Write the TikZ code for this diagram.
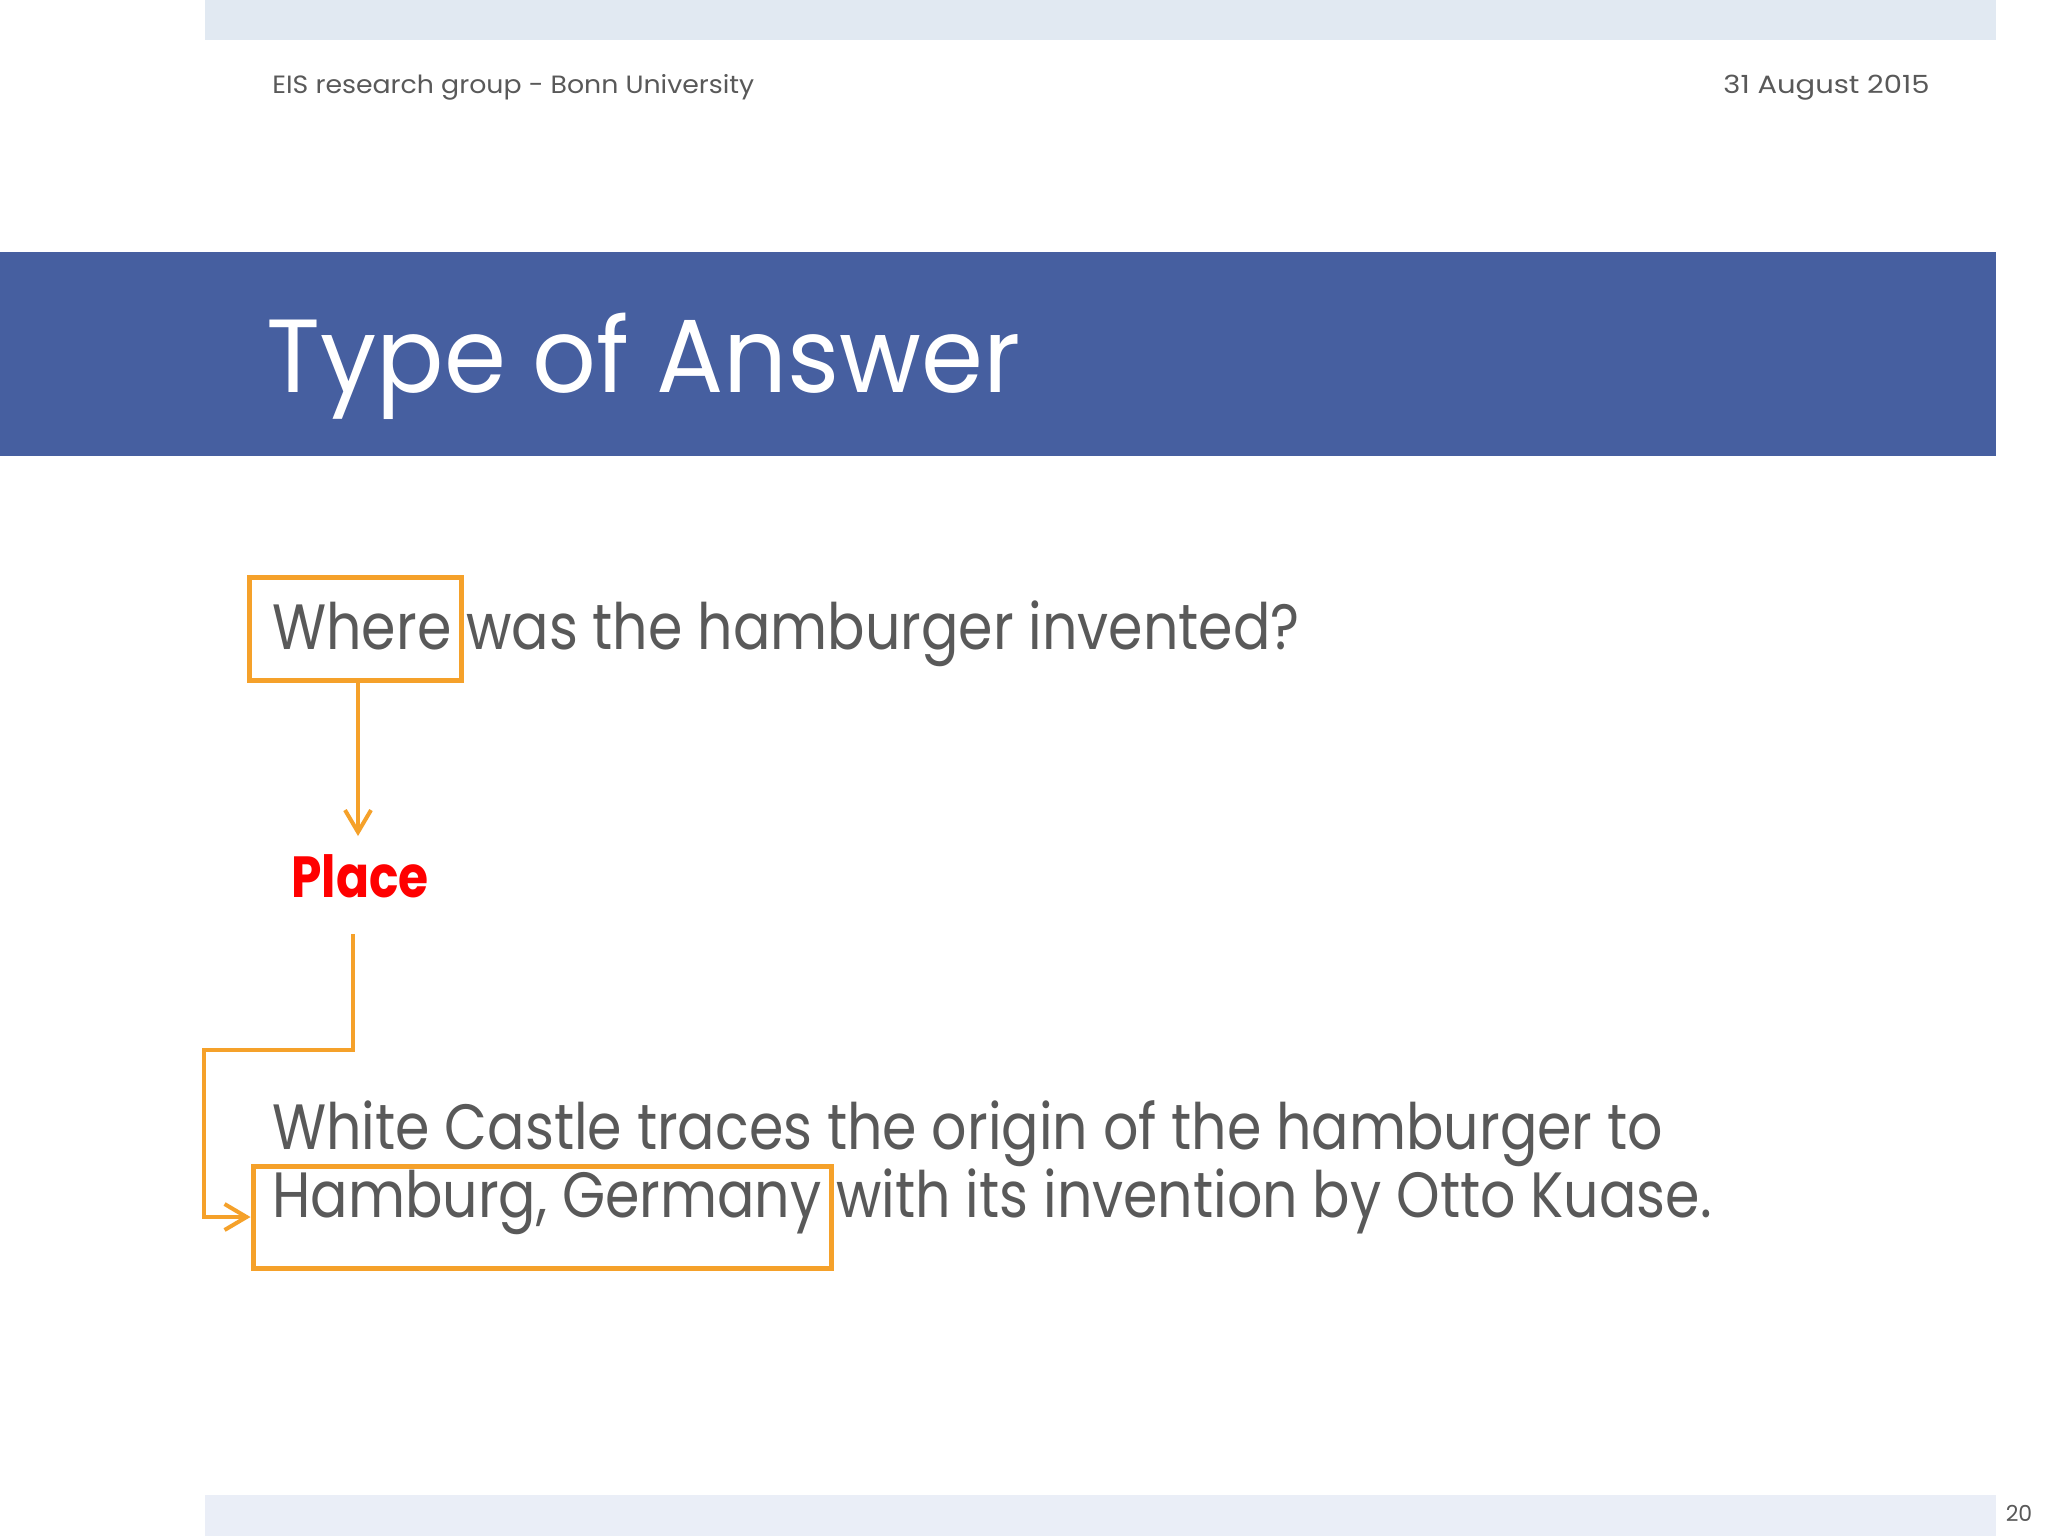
\documentclass[tikz,border=0pt]{standalone}
\usepackage{fontspec}
\setmainfont{Poppins}
\usetikzlibrary{arrows.meta}
\definecolor{txtgray}{HTML}{595959}
\definecolor{bandblue}{HTML}{465FA0}
\definecolor{topband}{HTML}{E1E9F2}
\definecolor{botband}{HTML}{EAEEF7}
\definecolor{hlorange}{HTML}{F5A12A}
\definecolor{placered}{HTML}{FF0000}
\newcommand{\hsq}[2]{\scalebox{#1}[1]{#2}}
\tikzset{
  hlbox/.style={draw=hlorange, line width=2.5pt, inner sep=0pt},
  link/.style={draw=hlorange, line width=2pt},
  tip/.style={-{Straight Barb[length=11pt,width=13pt,line width=2pt]}},
  body/.style={text=txtgray, inner sep=0pt, font=\fontsize{32}{38}\selectfont},
  small/.style={text=txtgray, inner sep=0pt, font=\fontsize{12.5}{15}\selectfont},
}
\begin{document}
\begin{tikzpicture}[x=0.5pt,y=-0.5pt]
\useasboundingbox (0,0) rectangle (2048,1536);
\fill[white] (0,0) rectangle (2048,1536);
% bands
\fill[topband] (205,0) rectangle (1996,40);
\fill[bandblue] (0,252) rectangle (1996,456);
\fill[botband] (205,1495) rectangle (1996,1536);
% header
\node[small, anchor=base west] (hdrl) at (272,94) {\hsq{1.07}{EIS research group - Bonn University}};
\node[small, anchor=base east] (hdrr) at (1930,94) {\hsq{1.16}{31 August 2015}};
% title
\node[anchor=base west, inner sep=0pt, text=white, font=\fontsize{52}{60}\selectfont] (title) at (266,392) {\hsq{0.96}{Type of Answer}};
% question
\node[body, anchor=base west] (q) at (272,649) {\hsq{0.866}{Where was the hamburger invented?}};
\node[hlbox, minimum width=106pt, minimum height=51.5pt] (wbox) at (355,628.5) {};
% Place
\node[anchor=base, inner sep=0pt, text=placered, font=\bfseries\fontsize{29}{34}\selectfont] (place) at (360,897) {\hsq{0.84}{Place}};
\coordinate (p1end) at (358,836);
\coordinate (p2start) at (353,934);
\coordinate (c1) at (353,1050);
\coordinate (c2) at (204,1050);
\coordinate (c3) at (204,1217);
% answer
\node[body, anchor=base west] (a1) at (272,1149) {\hsq{0.866}{White Castle traces the origin of the hamburger to}};
\node[body, anchor=base west] (a2) at (272,1217) {\hsq{0.866}{Hamburg, Germany with its invention by Otto Kuase.}};
\node[hlbox, minimum width=289pt, minimum height=51pt] (hbox) at (542,1217) {};
% connectors
\draw[link, tip] (wbox.south -| p1end) -- (p1end);
\draw[link, tip, line join=miter] (p2start) -- (c1) -- (c2) -- (c3) -- (hbox.west);
% page number
\node[small, anchor=base, font=\fontsize{11}{13}\selectfont] (pg) at (2019,1521) {20};
\end{tikzpicture}
\end{document}
